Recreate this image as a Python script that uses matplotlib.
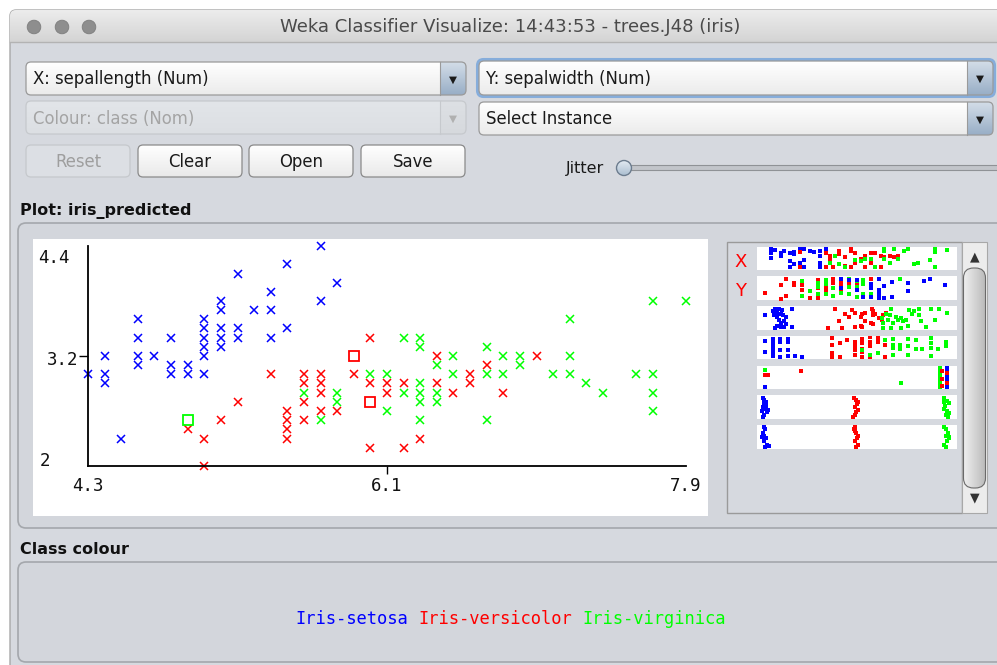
import numpy as np
import matplotlib
matplotlib.use("Agg")
import matplotlib.pyplot as plt
from matplotlib.patches import FancyBboxPatch, Circle
from matplotlib.colors import LinearSegmentedColormap
from matplotlib.transforms import offset_copy

# main plot: sepallength (x) vs sepalwidth (y)
setosa_x = [4.3, 4.4, 4.4, 4.4, 4.5, 4.6, 4.6, 4.6, 4.6, 4.7, 4.8, 4.8, 4.8, 4.9, 4.9,
            5.0, 5.0, 5.0, 5.0, 5.0, 5.0, 5.1, 5.1, 5.1, 5.1, 5.1, 5.2, 5.2, 5.2, 5.3,
            5.4, 5.4, 5.4, 5.5, 5.5, 5.7, 5.7, 5.8]
setosa_y = [3.0, 3.2, 3.0, 2.9, 2.3, 3.6, 3.4, 3.2, 3.1, 3.2, 3.4, 3.1, 3.0, 3.1, 3.0,
            3.6, 3.5, 3.4, 3.3, 3.2, 3.0, 3.8, 3.7, 3.5, 3.4, 3.3, 4.1, 3.5, 3.4, 3.7,
            3.9, 3.7, 3.4, 4.2, 3.5, 4.4, 3.8, 4.0]

versicolor_x = [4.9, 5.0, 5.0, 5.1, 5.2, 5.4, 5.5, 5.5, 5.5, 5.5, 5.6, 5.6, 5.6, 5.6,
                5.7, 5.7, 5.7, 5.7, 5.8, 5.9, 6.0, 6.0, 6.0, 6.1, 6.1, 6.2, 6.2, 6.3,
                6.4, 6.4, 6.5, 6.6, 6.6, 6.7, 6.8, 7.0]
versicolor_y = [2.4, 2.3, 2.0, 2.5, 2.7, 3.0, 2.6, 2.5, 2.4, 2.3, 3.0, 2.9, 2.7, 2.5,
                3.0, 2.9, 2.8, 2.6, 2.6, 3.0, 3.4, 2.9, 2.2, 2.9, 2.8, 2.9, 2.2, 2.3,
                3.2, 2.9, 2.8, 3.0, 2.9, 3.1, 2.8, 3.2]

virginica_x = [5.6, 5.7, 5.8, 5.8, 6.0, 6.1, 6.1, 6.2, 6.2, 6.3, 6.3, 6.3, 6.3, 6.3, 6.3,
               6.4, 6.4, 6.4, 6.5, 6.5, 6.7, 6.7, 6.7, 6.8, 6.8, 6.9, 6.9, 7.1, 7.2, 7.2,
               7.2, 7.3, 7.4, 7.6, 7.7, 7.7, 7.7, 7.7, 7.9]
virginica_y = [2.8, 2.5, 2.8, 2.7, 3.0, 3.0, 2.6, 3.4, 2.8, 3.4, 3.3, 2.9, 2.8, 2.7, 2.5,
               3.1, 2.8, 2.7, 3.2, 3.0, 3.3, 3.0, 2.5, 3.2, 3.0, 3.2, 3.1, 3.0, 3.6, 3.2,
               3.0, 2.9, 2.8, 3.0, 3.8, 3.0, 2.8, 2.6, 3.8]

# misclassified instances (drawn as squares)
wrong_versicolor_x = [5.9, 6.0]
wrong_versicolor_y = [3.2, 2.7]
wrong_virginica_x = [4.9]
wrong_virginica_y = [2.5]

x_ticks = [4.3, 6.1, 7.9]
y_ticks = [2.0, 3.2, 4.4]

# attribute thumbnails: (scaled value, jitter) pairs
s1_blue = [(0.06, 0.04), (0.06, 0.21), (0.06, 0.47), (0.08, 0.1), (0.11, 0.21), (0.11, 0.3), (0.11, 0.4),
           (0.13, 0.14), (0.16, 0.21), (0.16, 0.64), (0.16, 0.93), (0.18, 0.2), (0.18, 0.3), (0.18, 0.79),
           (0.21, 0.04), (0.21, 0.71), (0.21, 0.93), (0.23, 0.04), (0.23, 0.57), (0.23, 0.9), (0.26, 0.14),
           (0.28, 0.2), (0.31, 0.14), (0.31, 0.4), (0.31, 0.71), (0.31, 0.93), (0.34, 0.04)]
s1_red = [(0.21, 0.2), (0.21, 0.93), (0.34, 0.21), (0.34, 0.93), (0.36, 0.36), (0.36, 0.5), (0.38, 0.93),
          (0.41, 0.14), (0.41, 0.3), (0.44, 0.43), (0.44, 0.86), (0.47, 0.04), (0.47, 0.14), (0.49, 0.21),
          (0.49, 0.71), (0.52, 0.5), (0.54, 0.36), (0.57, 0.21), (0.57, 0.71), (0.59, 0.21), (0.62, 0.36),
          (0.62, 0.93), (0.64, 0.43), (0.67, 0.36), (0.69, 0.43), (0.71, 0.36), (0.54, 0.93), (0.47, 0.93)]
s1_green = [(0.36, 0.71), (0.39, 0.36), (0.41, 0.79), (0.44, 0.93), (0.49, 0.57), (0.52, 0.64), (0.54, 0.5),
            (0.57, 0.5), (0.59, 0.93), (0.64, 0.04), (0.64, 0.14), (0.64, 0.5), (0.67, 0.71), (0.69, 0.04),
            (0.71, 0.5), (0.74, 0.14), (0.76, 0.04), (0.79, 0.79), (0.81, 0.71), (0.87, 0.57), (0.9, 0.04),
            (0.9, 0.2), (0.9, 0.93), (0.96, 0.1)]

s2_red = [(0.03, 0.72), (0.11, 0.38), (0.11, 1.0), (0.14, 0.07), (0.14, 0.86), (0.18, 0.24), (0.18, 0.35),
          (0.22, 0.38), (0.22, 0.58), (0.26, 0.96), (0.30, 0.1), (0.30, 0.3), (0.30, 0.5), (0.30, 0.96),
          (0.34, 0.44), (0.34, 0.65), (0.38, 0.07), (0.38, 0.24), (0.42, 0.1), (0.42, 0.3), (0.42, 0.5),
          (0.42, 0.7), (0.46, 0.24), (0.46, 0.4), (0.50, 0.38), (0.57, 0.07)]
s2_green = [(0.22, 0.17), (0.22, 0.86), (0.26, 0.65), (0.30, 0.24), (0.30, 0.44), (0.30, 0.8), (0.34, 0.1),
            (0.34, 0.3), (0.34, 0.8), (0.38, 0.51), (0.38, 0.86), (0.42, 0.72), (0.46, 0.07), (0.46, 0.44),
            (0.46, 0.8), (0.50, 0.17), (0.50, 0.44), (0.50, 0.93), (0.53, 0.1), (0.53, 0.3), (0.53, 0.8),
            (0.57, 0.8), (0.72, 0.07)]
s2_blue = [(0.42, 0.07), (0.42, 0.51), (0.46, 0.1), (0.50, 0.1), (0.50, 0.58), (0.53, 0.93), (0.57, 0.3),
           (0.57, 0.5), (0.57, 0.93), (0.61, 0.07), (0.61, 0.58), (0.61, 0.8), (0.61, 0.96), (0.64, 0.4),
           (0.64, 0.96), (0.68, 0.21), (0.68, 0.93), (0.76, 0.26), (0.76, 0.65), (0.84, 0.17), (0.87, 0.07),
           (0.95, 0.35)]

s3_blue = [(0.03, 0.38), (0.07, 0.17), (0.08, 0.07), (0.09, 0.24), (0.10, 0.07), (0.12, 0.1), (0.075, 0.38),
           (0.09, 0.44), (0.11, 0.3), (0.125, 0.38), (0.10, 0.58), (0.11, 0.72), (0.10, 0.86), (0.12, 0.93),
           (0.08, 0.96), (0.13, 0.65), (0.13, 0.93), (0.14, 0.44), (0.17, 0.07), (0.17, 0.93), (0.14, 0.8),
           (0.09, 0.86), (0.11, 0.93)]
s3_red = [(0.39, 0.07), (0.41, 0.65), (0.44, 0.31), (0.46, 0.44), (0.475, 0.1), (0.49, 0.24), (0.49, 0.93),
          (0.52, 0.44), (0.52, 0.86), (0.525, 0.31), (0.54, 0.24), (0.54, 0.65), (0.57, 0.72), (0.575, 0.07),
          (0.583, 0.17), (0.583, 0.38), (0.583, 0.8), (0.59, 0.31), (0.61, 0.51), (0.625, 0.58), (0.633, 0.38),
          (0.65, 0.24), (0.35, 0.96), (0.425, 0.96), (0.525, 0.93)]
s3_green = [(0.625, 0.51), (0.633, 0.72), (0.65, 0.31), (0.667, 0.38), (0.675, 0.07), (0.658, 0.58),
            (0.683, 0.72), (0.70, 0.44), (0.708, 0.58), (0.725, 0.51), (0.733, 0.65), (0.75, 0.58),
            (0.758, 0.86), (0.767, 0.1), (0.783, 0.31), (0.79, 0.17), (0.817, 0.07), (0.817, 0.38),
            (0.825, 0.65), (0.85, 0.93), (0.875, 0.07), (0.9, 0.58), (0.917, 0.07), (0.958, 0.24),
            (0.725, 0.96), (0.675, 0.96), (0.633, 0.96)]

s4_blue = [(0.033, 0.19), (0.033, 0.71), (0.072, 0.07), (0.072, 0.21), (0.072, 0.36), (0.072, 0.5),
           (0.072, 0.64), (0.072, 0.79), (0.072, 0.93), (0.108, 0.07), (0.108, 0.21), (0.108, 0.64),
           (0.108, 0.96), (0.147, 0.07), (0.147, 0.24), (0.147, 0.64), (0.147, 0.9), (0.183, 0.93), (0.222, 0.96)]
s4_red = [(0.375, 0.04), (0.375, 0.36), (0.375, 0.79), (0.375, 0.96), (0.412, 0.29), (0.412, 0.96), (0.45, 0.14),
          (0.49, 0.21), (0.49, 0.43), (0.49, 0.64), (0.49, 0.86), (0.528, 0.07), (0.528, 0.29), (0.528, 0.57),
          (0.528, 0.71), (0.565, 0.0), (0.565, 0.21), (0.565, 0.43), (0.565, 0.96), (0.605, 0.04), (0.605, 0.24),
          (0.642, 0.36), (0.642, 0.96), (0.528, 0.96)]
s4_green = [(0.528, 0.64), (0.565, 0.86), (0.605, 0.79), (0.642, 0.14), (0.683, 0.07), (0.683, 0.36),
            (0.683, 0.5), (0.683, 0.86), (0.72, 0.36), (0.72, 0.57), (0.762, 0.07), (0.762, 0.43), (0.762, 0.86),
            (0.80, 0.14), (0.80, 0.57), (0.833, 0.57), (0.875, 0.04), (0.875, 0.29), (0.875, 0.5), (0.875, 0.93),
            (0.913, 0.57), (0.955, 0.21), (0.955, 0.43)]

s5_green = [(0.033, 0.14), (0.725, 0.79), (0.925, 0.04), (0.925, 0.14), (0.925, 0.25), (0.925, 0.36),
            (0.925, 0.47), (0.925, 0.58), (0.925, 0.69), (0.925, 0.8), (0.925, 0.9), (0.925, 0.98)]
s5_blue = [(0.033, 0.96), (0.958, 0.04), (0.958, 0.14), (0.958, 0.25), (0.958, 0.36), (0.958, 0.47),
           (0.958, 0.58), (0.958, 0.69), (0.958, 0.8), (0.958, 0.9), (0.958, 0.98)]
s5_red = [(0.033, 0.39), (0.045, 0.39), (0.212, 0.19), (0.935, 0.2), (0.935, 0.55), (0.935, 0.9),
          (0.958, 0.3), (0.958, 0.75)]

s6_blue = [(0.022, 0.07), (0.028, 0.17), (0.038, 0.26), (0.028, 0.38), (0.022, 0.49), (0.033, 0.58),
           (0.045, 0.65), (0.042, 0.76), (0.025, 0.86), (0.022, 0.96), (0.035, 0.45), (0.015, 0.7)]
s6_red = [(0.483, 0.07), (0.495, 0.17), (0.505, 0.26), (0.50, 0.38), (0.492, 0.51), (0.505, 0.62),
          (0.497, 0.72), (0.488, 0.86), (0.478, 0.96), (0.942, 0.15)]
s6_green = [(0.945, 0.07), (0.958, 0.2), (0.945, 0.26), (0.95, 0.44), (0.945, 0.58), (0.958, 0.68),
            (0.967, 0.79), (0.955, 0.9), (0.962, 0.96), (0.97, 0.3)]

s7_blue = [(0.025, 0.03), (0.033, 0.14), (0.022, 0.29), (0.028, 0.43), (0.038, 0.57), (0.028, 0.71),
           (0.042, 0.86), (0.05, 0.93), (0.033, 0.96), (0.018, 0.5)]
s7_red = [(0.492, 0.03), (0.485, 0.14), (0.497, 0.29), (0.505, 0.43), (0.50, 0.57), (0.492, 0.71),
          (0.505, 0.86), (0.497, 0.96), (0.49, 0.22)]
s7_green = [(0.945, 0.03), (0.955, 0.14), (0.962, 0.29), (0.955, 0.43), (0.967, 0.57), (0.958, 0.71),
            (0.945, 0.86), (0.952, 0.96), (0.97, 0.5)]

class_names = ['Iris-setosa', 'Iris-versicolor', 'Iris-virginica']

W, H = 997, 665
BG = '#d6d9df'
BLUE, RED, GREEN = '#0000ff', '#ff0000', '#00ff00'
UI = 'DejaVu Sans'
MONO = 'DejaVu Sans Mono'

fig = plt.figure(figsize=(W / 100, H / 100), dpi=100)
fig.patch.set_facecolor('white')
ui = fig.add_axes([0, 0, 1, 1])
ui.set_xlim(0, W)
ui.set_ylim(H, 0)
ui.set_autoscale_on(False)
ui.axis('off')


def box(x0, y0, x1, y1, r=0, fc=BG, ec='none', lw=1, z=1):
    style = 'round,pad=0,rounding_size=%g' % r if r > 0 else 'square,pad=0'
    p = FancyBboxPatch((x0, y0), x1 - x0, y1 - y0, boxstyle=style, fc=fc, ec=ec, lw=lw, zorder=z)
    ui.add_patch(p)
    return p


def grad(x0, y0, x1, y1, c0, c1, clip=None, z=1, horizontal=False):
    cmap = LinearSegmentedColormap.from_list('g', [c0, c1])
    arr = np.linspace(0, 1, 64)
    arr = arr.reshape(1, -1) if horizontal else arr.reshape(-1, 1)
    im = ui.imshow(arr, extent=(x0, x1, y1, y0), cmap=cmap, aspect='auto',
                   interpolation='bilinear', zorder=z)
    if clip is not None:
        im.set_clip_path(clip)
    return im


def combo(x0, y0, x1, y1, text, focus=False, disabled=False):
    ec = '#c6c9cd' if disabled else '#9a9a9a'
    outline = box(x0, y0, x1, y1, r=5, fc='none', ec=ec, lw=0.9, z=3)
    if disabled:
        grad(x0, y0, x1, y1, '#e2e5e9', '#dcdfe3', clip=outline, z=2)
        grad(x1 - 26, y0, x1, y1, '#dde0e4', '#d6d9dd', clip=outline, z=2.5)
        tc, ac = '#a4a4a4', '#b0b0b0'
    else:
        grad(x0, y0, x1, y1, '#ffffff', '#ebebeb', clip=outline, z=2)
        grad(x1 - 26, y0, x1, y1, '#d3dde8', '#98aec6', clip=outline, z=2.5)
        tc, ac = '#1a1a1a', '#1a1a1a'
    if focus:
        box(x0 - 1.5, y0 - 1.5, x1 + 1.5, y1 + 1.5, r=6, fc='none', ec='#86addb', lw=2.2, z=2.9)
    ui.plot([x1 - 26, x1 - 26], [y0, y1], color=ec, lw=0.8, zorder=3)
    ui.text(x1 - 13, (y0 + y1) / 2 + 1, '\u25bc', ha='center', va='center', fontsize=7.5,
            color=ac, fontfamily=UI, zorder=4)
    ui.text(x0 + 7, (y0 + y1) / 2 + 1, text, ha='left', va='center', fontsize=11.9,
            color=tc, fontfamily=UI, zorder=4)


def button(x0, y0, x1, y1, text, disabled=False):
    if disabled:
        box(x0, y0, x1, y1, r=5, fc='#dcdfe4', ec='#c5c8cc', lw=0.9, z=3)
        tc = '#9e9e9e'
    else:
        p = box(x0, y0, x1, y1, r=5, fc='none', ec='#8a8a8a', lw=0.9, z=3)
        grad(x0, y0, x1, y1, '#ffffff', '#e9e9e9', clip=p, z=2)
        tc = '#1a1a1a'
    ui.text((x0 + x1) / 2, (y0 + y1) / 2 + 1, text, ha='center', va='center', fontsize=11.9,
            color=tc, fontfamily=UI, zorder=4)


# window and title bar
win = box(10, 10, 1020, 700, r=6, fc=BG, ec='#a8a8a8', lw=1, z=0.5)
grad(10, 10, 1020, 42, '#ececec', '#d4d4d4', clip=win, z=0.6)
ui.plot([10, 1020], [42, 42], color='#b3b3b3', lw=1, zorder=0.7)
for cx in [34, 62, 89]:
    ui.add_patch(Circle((cx, 27), 6.8, fc='#8e8e8e', ec='#7d7d7d', lw=0.6, zorder=1))
ui.text(510, 27, 'Weka Classifier Visualize: 14:43:53 - trees.J48 (iris)', ha='center',
        va='center', fontsize=13, color='#4a4a4a', fontfamily=UI, zorder=1)

# controls
combo(26, 62, 466, 95, 'X: sepallength (Num)')
combo(479, 61, 993, 95, 'Y: sepalwidth (Num)', focus=True)
combo(26, 101, 466, 134, 'Colour: class (Nom)', disabled=True)
combo(479, 102, 993, 135, 'Select Instance')
button(26, 145, 130, 177, 'Reset', disabled=True)
button(138, 145, 242, 177, 'Clear')
button(249, 145, 353, 177, 'Open')
button(361, 145, 465, 177, 'Save')

ui.text(585, 169, 'Jitter', ha='center', va='center', fontsize=11.5, color='#1a1a1a', fontfamily=UI)
box(618, 165.5, 1000, 170.5, r=2, fc='#c2c5ca', ec='#8f9296', lw=0.8, z=2)
knob = Circle((624, 168), 7.5, fc='none', ec='#6c7c8e', lw=1, zorder=3.1)
ui.add_patch(knob)
grad(616, 160, 632, 176, '#e4ecf3', '#a9bccf', clip=knob, z=3)

# plot panel
ui.text(20, 211, 'Plot: iris_predicted', ha='left', va='center', fontsize=11.5,
        fontweight='bold', color='#111111', fontfamily=UI)
box(18, 223, 1015, 528, r=8, fc='#d3d6dc', ec='#a4a7ac', lw=1.2, z=1)
box(33, 239, 708, 516, fc='white', z=1.5)

# thumbnail panel and scrollbar
box(727, 242, 962, 513, fc=BG, ec='#9a9a9a', lw=1, z=1.5)
box(962, 242, 987, 513, fc='#ececec', ec='#a8a8a8', lw=0.8, z=1.6)
thumb = box(963.5, 268, 985.5, 488, r=10, fc='none', ec='#6a6a6a', lw=0.8, z=1.8)
grad(963, 268, 986, 488, '#f1f1f1', '#b9b9b9', clip=thumb, z=1.7, horizontal=True)
ui.text(974.5, 257, '\u25b2', ha='center', va='center', fontsize=9, color='#333333', fontfamily=UI, zorder=2)
ui.text(974.5, 498, '\u25bc', ha='center', va='center', fontsize=9, color='#333333', fontfamily=UI, zorder=2)
ui.text(741, 262, 'X', ha='center', va='center', fontsize=13, color=RED, fontfamily=UI, zorder=2)
ui.text(741, 291, 'Y', ha='center', va='center', fontsize=13, color=RED, fontfamily=UI, zorder=2)

# class colour panel
ui.text(20, 550, 'Class colour', ha='left', va='center', fontsize=11.5,
        fontweight='bold', color='#111111', fontfamily=UI)
box(18, 562, 1015, 662, r=8, fc='#d3d6dc', ec='#a4a7ac', lw=1.2, z=1)
cw = 10.25
pos = 295
for name, col in zip(class_names, [BLUE, RED, GREEN]):
    ui.text(pos, 619, name, ha='left', va='center', fontsize=12.3, color=col, fontfamily=MONO, zorder=2)
    pos += (len(name) + 1) * cw

# main scatter
ax = fig.add_axes([88 / W, 1 - 466 / H, 598 / W, 220 / H])
ax.set_facecolor('none')
ax.set_xlim(x_ticks[0], x_ticks[-1])
ax.set_ylim(y_ticks[0], y_ticks[-1])
for s in ['top', 'right']:
    ax.spines[s].set_visible(False)
for s in ['left', 'bottom']:
    ax.spines[s].set_linewidth(1.3)
ax.set_xticks([x_ticks[1]])
ax.set_yticks([y_ticks[1]])
ax.tick_params(axis='x', length=5.8, width=1, labelbottom=False)
ax.tick_params(axis='y', length=6.5, width=1, labelleft=False)

ax.plot(setosa_x, setosa_y, 'x', color=BLUE, ms=5.3, mew=1.1, clip_on=False)
ax.plot(versicolor_x, versicolor_y, 'x', color=RED, ms=5.3, mew=1.1, clip_on=False)
ax.plot(virginica_x, virginica_y, 'x', color=GREEN, ms=5.3, mew=1.1, clip_on=False)
ax.plot(wrong_versicolor_x, wrong_versicolor_y, 's', mfc='none', mec=RED, ms=7.6, mew=1.3, clip_on=False)
ax.plot(wrong_virginica_x, wrong_virginica_y, 's', mfc='none', mec=GREEN, ms=7.6, mew=1.3, clip_on=False)


def axlabel(x, y, s, dx, dy):
    tr = offset_copy(ax.transData, fig=fig, x=dx, y=dy, units='dots')
    ax.text(x, y, s, transform=tr, ha='center', va='center', fontsize=12.5,
            fontfamily=MONO, color='#111111', clip_on=False)


axlabel(x_ticks[0], y_ticks[2], '4.4', -34, -12)
axlabel(x_ticks[0], y_ticks[1], '3.2', -25, -4)
axlabel(x_ticks[0], y_ticks[0], '2', -43, 5)
for xv in x_ticks:
    axlabel(xv, y_ticks[0], '%g' % xv, 0, -20)

# thumbnail strips
strip_rows = [(247, 270), (276, 300), (306, 330), (336, 359), (366, 389), (395, 419), (425, 449)]
strips = [(s1_blue, s1_red, s1_green), (s2_red, s2_green, s2_blue), (s3_blue, s3_red, s3_green),
          (s4_blue, s4_red, s4_green), (s5_green, s5_blue, s5_red), (s6_blue, s6_red, s6_green),
          (s7_blue, s7_red, s7_green)]
colour_of = {}
for grp in [s1_blue, s3_blue, s4_blue, s5_blue, s6_blue, s7_blue, s2_blue]:
    colour_of[id(grp)] = BLUE
for grp in [s1_red, s2_red, s3_red, s4_red, s5_red, s6_red, s7_red]:
    colour_of[id(grp)] = RED
for grp in [s1_green, s2_green, s3_green, s4_green, s5_green, s6_green, s7_green]:
    colour_of[id(grp)] = GREEN

for (top, bot), groups in zip(strip_rows, strips):
    sa = fig.add_axes([757 / W, 1 - bot / H, 200 / W, (bot - top) / H])
    sa.set_facecolor('white')
    sa.set_xlim(-0.01, 1.01)
    sa.set_ylim(1.07, -0.07)
    sa.set_xticks([])
    sa.set_yticks([])
    for s in sa.spines.values():
        s.set_visible(False)
    for pts in groups:
        sa.plot([p[0] for p in pts], [p[1] for p in pts], 's', color=colour_of[id(pts)],
                ms=2.3, mew=0)

fig.savefig('out.png', dpi=100)
